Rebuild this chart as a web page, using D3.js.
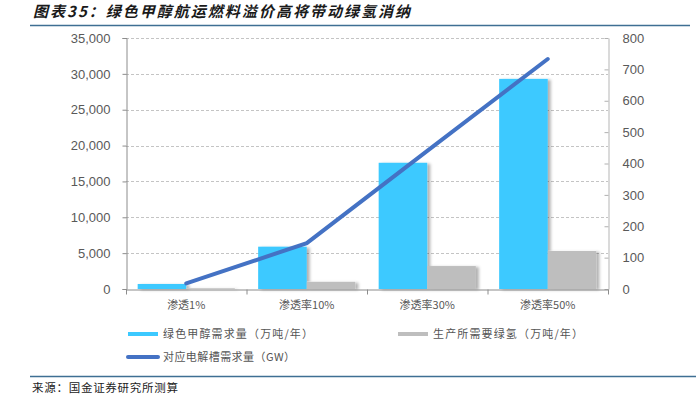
<!DOCTYPE html>
<html>
<head>
<meta charset="utf-8">
<script src="https://cdn.jsdelivr.net/npm/d3@7"></script>
<style>
  body { margin: 0; background: #fff; }
  text { font-family: "Liberation Sans", Arial, "Noto Sans CJK SC", sans-serif; }
  .cjk { font-family: "Noto Sans CJK SC", sans-serif; }
</style>
</head>
<body>
<div id="chart"></div>
<script>
// data
var categories = ["渗透1%", "渗透率10%", "渗透率30%", "渗透率50%"]
var methanol = [700, 5900, 17600, 29300]      // 绿色甲醇需求量（万吨/年）
var hydrogen = [100, 1000, 3200, 5300]        // 生产所需要绿氢（万吨/年）
var electrolyzer = [18, 146, 440, 733]        // 对应电解槽需求量（GW）
var leftTicks = [0, 5000, 10000, 15000, 20000, 25000, 30000, 35000]
var rightTicks = [0, 100, 200, 300, 400, 500, 600, 700, 800]

var W = 696, H = 398
var margin = {top: 38, bottom: 109, left: 126, right: 88}

var svg = d3.select("#chart")
    .append("svg")
    .attr("width", W)
    .attr("height", H)

// bar shadow
var defs = svg.append("defs")
defs.append("filter")
    .attr("id", "shadow")
    .attr("x", "-10%").attr("y", "-10%")
    .attr("width", "130%").attr("height", "130%")
  .append("feDropShadow")
    .attr("dx", 3).attr("dy", 1)
    .attr("stdDeviation", 1.5)
    .attr("flood-color", "#000")
    .attr("flood-opacity", 0.3)

// title
svg.append("text")
    .attr("class", "cjk")
    .attr("x", 33)
    .attr("y", 17)
    .attr("textLength", 377)
    .attr("lengthAdjust", "spacing")
    .style("font-size", "15px")
    .style("font-weight", "bold")
    .style("font-style", "italic")
    .style("fill", "#1a1a1a")
    .text("图表35：绿色甲醇航运燃料溢价高将带动绿氢消纳")

svg.append("line")
    .attr("x1", 30).attr("x2", 690)
    .attr("y1", 25.5).attr("y2", 25.5)
    .style("stroke", "#3f6f93")
    .style("stroke-width", 1.5)

var x = d3.scaleBand()
    .domain(categories)
    .range([margin.left, W - margin.right])

var yL = d3.scaleLinear()
    .domain([0, 35000])
    .range([H - margin.bottom, margin.top])

var yR = d3.scaleLinear()
    .domain([0, 800])
    .range([H - margin.bottom, margin.top])

// gridlines
svg.append("g")
    .selectAll("line")
    .data(leftTicks.slice(1))
    .enter()
    .append("line")
    .attr("x1", margin.left)
    .attr("x2", W - margin.right)
    .attr("y1", d => Math.round(yL(d)) + 0.5)
    .attr("y2", d => Math.round(yL(d)) + 0.5)
    .style("stroke", "#c4c4c4")
    .style("stroke-dasharray", "3,2")

// bars
var inner = d3.scaleBand()
    .domain(["m", "h"])
    .range([0, x.bandwidth()])
    .paddingOuter(0.24)
    .paddingInner(0)

var bars = svg.append("g").attr("filter", "url(#shadow)")

bars.selectAll("rect.m")
    .data(methanol)
    .enter()
    .append("rect")
    .attr("class", "m")
    .attr("x", (d, i) => x(categories[i]) + inner("m"))
    .attr("y", d => yL(d))
    .attr("width", inner.bandwidth())
    .attr("height", d => yL(0) - yL(d))
    .style("fill", "#3cc9ff")

bars.selectAll("rect.h")
    .data(hydrogen)
    .enter()
    .append("rect")
    .attr("class", "h")
    .attr("x", (d, i) => x(categories[i]) + inner("h"))
    .attr("y", d => yL(d))
    .attr("width", inner.bandwidth())
    .attr("height", d => yL(0) - yL(d))
    .style("fill", "#bebebe")

// axes
var leftAxis = svg.append("g")
    .attr("transform", "translate(" + (margin.left + 0.5) + ",0)")
    .call(d3.axisLeft(yL).tickValues(leftTicks).tickSize(4).tickPadding(12).tickFormat(d3.format(",")))
var rightAxis = svg.append("g")
    .attr("transform", "translate(" + (W - margin.right + 0.5) + ",0)")
    .call(d3.axisRight(yR).tickValues(rightTicks).tickSizeInner(-4).tickSizeOuter(0).tickPadding(14))
var bottomAxis = svg.append("g")
    .attr("transform", "translate(0," + (H - margin.bottom + 0.5) + ")")
    .call(d3.axisBottom(x).tickSize(0).tickPadding(12))

// category boundary ticks
bottomAxis.selectAll("line.sep")
    .data(d3.range(categories.length + 1))
    .enter()
    .append("line")
    .attr("class", "sep")
    .attr("x1", i => margin.left + 0.5 + i * x.bandwidth())
    .attr("x2", i => margin.left + 0.5 + i * x.bandwidth())
    .attr("y1", 0).attr("y2", 5)
    .style("stroke", "#8c8c8c")

;[leftAxis, rightAxis, bottomAxis].forEach(function(a) {
    a.selectAll(".domain, .tick line").style("stroke", "#8c8c8c")
    a.selectAll("text")
        .style("fill", "#595959")
        .style("font-size", "13px")
})
bottomAxis.selectAll("text")
    .attr("class", "cjk")
    .style("font-size", "11px")
rightAxis.selectAll(".tick line").style("stroke", "#b0b0b0")
rightAxis.select(".domain").style("stroke", "#b5b5b5")

// line series
var line = d3.line()
    .x((d, i) => x(categories[i]) + x.bandwidth() / 2)
    .y(d => yR(d))

svg.append("path")
    .datum(electrolyzer)
    .attr("d", line)
    .style("fill", "none")
    .style("stroke", "#4472c4")
    .style("stroke-width", 4)
    .style("stroke-linecap", "round")

// legend
var legend = [
    {name: "绿色甲醇需求量（万吨/年）", color: "#3cc9ff", x: 128, y: 334, len: 150},
    {name: "生产所需要绿氢（万吨/年）", color: "#bebebe", x: 398, y: 334, len: 150},
    {name: "对应电解槽需求量（GW）", color: "#4472c4", x: 128, y: 357, len: 132}
]
var lg = svg.append("g")
    .selectAll("g")
    .data(legend)
    .enter()
    .append("g")
    .attr("transform", d => "translate(" + d.x + "," + d.y + ")")
lg.append("line")
    .attr("x1", 0).attr("x2", 30)
    .style("stroke", d => d.color)
    .style("stroke-width", 4)
    .style("stroke-linecap", d => d.color == "#4472c4" ? "round" : "butt")
lg.append("text")
    .attr("class", "cjk")
    .attr("x", 35)
    .attr("y", 4)
    .attr("textLength", d => d.len)
    .attr("lengthAdjust", "spacing")
    .style("font-size", "11px")
    .style("fill", "#555")
    .text(d => d.name)

// source
svg.append("line")
    .attr("x1", 30).attr("x2", 696)
    .attr("y1", 376.5).attr("y2", 376.5)
    .style("stroke", "#3f6f93")
    .style("stroke-width", 1.5)

svg.append("text")
    .attr("class", "cjk")
    .attr("x", 32)
    .attr("y", 392)
    .attr("textLength", 146)
    .attr("lengthAdjust", "spacing")
    .style("font-size", "11.5px")
    .style("fill", "#222")
    .text("来源：国金证券研究所测算")
</script>
</body>
</html>
